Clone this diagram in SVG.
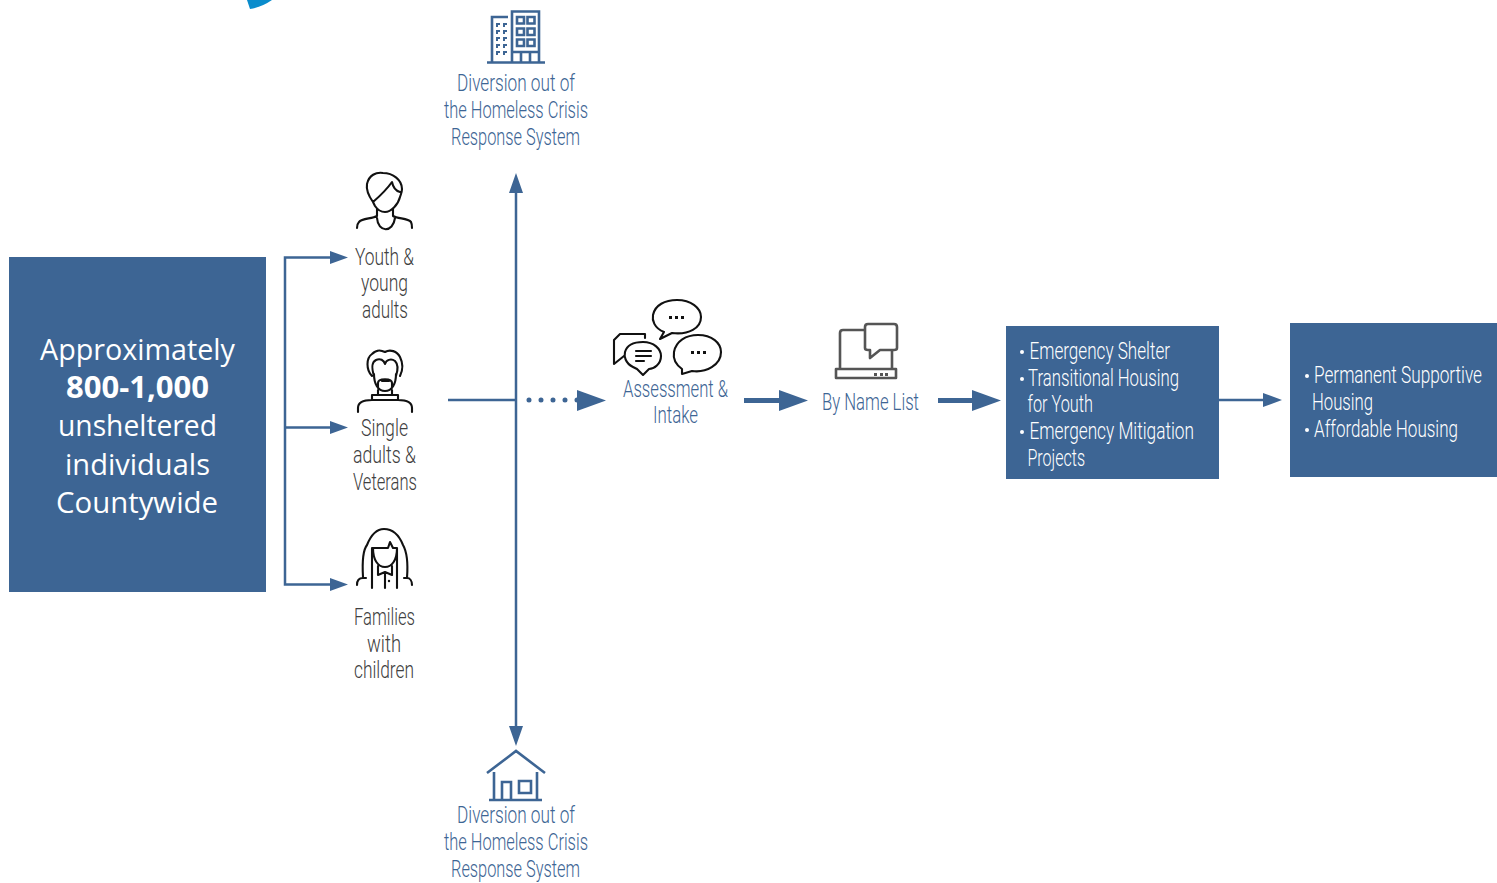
<svg xmlns="http://www.w3.org/2000/svg" width="1497" height="883" viewBox="0 0 1497 883">
<style>
text{font-family:"Open Sans","Liberation Sans",sans-serif}
.t{font-size:24px;font-weight:300;font-family:"Roboto","Open Sans",sans-serif;text-anchor:start}
.g{fill:#404040}.b{fill:#3d6594}.w{fill:#fff}
.m{font-size:30px;fill:#fff}
.box{fill:#3d6594}
.k{fill:none;stroke:#111;stroke-width:2.100;stroke-linecap:round;stroke-linejoin:round}
.s{fill:none;stroke:#3d6594;stroke-width:2.600;stroke-linejoin:miter}
.c{fill:none;stroke:#3d6594;stroke-width:2.500}
.h{fill:#3d6594}
.d{fill:none;stroke:#555;stroke-width:2.600;stroke-linejoin:round}
</style>
<path d="M247 0H272Q262 7 250 9Z" fill="#0a8ccc"/>
<g id="connectors">
<path class="c" d="M332 257.500H285V584.500H332M285 427.500H332"/>
<path class="h" d="M330 251L348 257.500L330 264ZM330 421L348 427.500L330 434ZM330 578L348 584.500L330 591Z"/>
<path class="c" d="M448 400H516M516 186V732"/>
<path class="h" d="M516 173L523 193H509ZM516 746L509 726H523Z"/>
<path d="M529 400H578" fill="none" stroke="#3d6594" stroke-width="5" stroke-linecap="round" stroke-dasharray="0 12"/>
<path class="h" d="M577 390L606 400.500L577 411Z"/>
<path fill="none" stroke="#3d6594" stroke-width="5" d="M744 400.500H785"/>
<path class="h" d="M779 390L808 400.500L779 411Z"/>
<path fill="none" stroke="#3d6594" stroke-width="5" d="M938 400.500H978"/>
<path class="h" d="M972 390L1001 400.500L972 411Z"/>
<path class="c" d="M1219 400H1268"/>
<path class="h" d="M1263 393L1282 400L1263 407Z"/>
</g>
<g id="node-total">
<rect class="box" x="9" y="257" width="257" height="335"/>
<text class="m" x="40" y="360" textLength="195" lengthAdjust="spacingAndGlyphs">Approximately</text>
<text class="m" x="66" y="398" font-weight="700" textLength="143" lengthAdjust="spacingAndGlyphs">800-1,000</text>
<text class="m" x="58" y="436" textLength="159" lengthAdjust="spacingAndGlyphs">unsheltered</text>
<text class="m" x="65" y="475" textLength="145" lengthAdjust="spacingAndGlyphs">individuals</text>
<text class="m" x="56" y="513" textLength="162" lengthAdjust="spacingAndGlyphs">Countywide</text>
</g>
<g id="node-youth">
<path class="k" d="M373 202C368 195 366 190 367 184C369 175 376 172 383 173C393 173 402 180 402 189C402 192 401 194 400 197C398 205 391 212 385 212C381 212 377 209 375 206L373 202C380 196 387 189 392 182C393 187 396 191 400 192M377 209V216C372 219 362 218 359 222C357 224 357 226 357 228M393 209V216C398 219 408 218 411 222C412 224 412 226 412 228M377 218C378 233 393 233 395 218"/>
<text class="t g" x="355" y="265" textLength="59" lengthAdjust="spacingAndGlyphs">Youth &amp;</text>
<text class="t g" x="361" y="291" textLength="47" lengthAdjust="spacingAndGlyphs">young</text>
<text class="t g" x="362" y="318" textLength="46" lengthAdjust="spacingAndGlyphs">adults</text>
</g>
<g id="node-single">
<path class="k" d="M372 376C366 370 366 358 372 354C377 349 381 350 385 352C390 349 397 351 400 357C403 363 403 370 400 376M374 376C371 366 372 362 376 360C380 358 384 360 385 364C386 360 391 358 395 361C398 364 398 370 396 376M374 374C374 384 378 391 385 391C392 391 396 384 396 374M378 388V383C378 378 392 378 392 383V388M382 381H389M378 390V395M392 390V395M372 395H398V400H372ZM358 412V408C358 402 363 400 372 400M412 412V408C412 402 407 400 398 400"/>
<text class="t g" x="361" y="436" textLength="47" lengthAdjust="spacingAndGlyphs">Single</text>
<text class="t g" x="353" y="463" textLength="63" lengthAdjust="spacingAndGlyphs">adults &amp;</text>
<text class="t g" x="353" y="490" textLength="64" lengthAdjust="spacingAndGlyphs">Veterans</text>
</g>
<g id="node-families">
<path class="k" d="M363 577C362 560 363 550 367 545C371 535 376 529 384 529C393 529 399 535 403 545C407 552 408 565 407 578M372 588V548H388L390 542L393 548H397V588M373 548C373 560 378 567 385 567C392 567 397 560 397 548M378 566V575L385 572L392 575V566M385 573V588M357 585C357 581 359 578 363 578H366M412 585C412 581 410 578 407 578H404"/>
<circle cx="389" cy="581" r="1.200" fill="#111"/>
<text class="t g" x="354" y="625" textLength="61" lengthAdjust="spacingAndGlyphs">Families</text>
<text class="t g" x="367" y="652" textLength="34" lengthAdjust="spacingAndGlyphs">with</text>
<text class="t g" x="354" y="678" textLength="60" lengthAdjust="spacingAndGlyphs">children</text>
</g>
<g id="node-diversion-top">
<g class="s">
<path d="M487 62.500H545M492 62V17H508M512 62V11.500H539V62M512 52H539M521 52V62M530 52V62"/>
<path d="M517 17h7v6.500h-7zM527.500 17h7v6.500h-7zM517 28.500h7v6.500h-7zM527.500 28.500h7v6.500h-7zM517 39.500h7v6.500h-7zM527.500 39.500h7v6.500h-7z"/>
<path d="M500 24h-3v3M507 24h-3v3M500 31h-3v3M507 31h-3v3M500 38h-3v3M507 38h-3v3M500 45h-3v3M507 45h-3v3M500 52h-3v3M507 52h-3v3" stroke-width="2"/>
</g>
<text class="t b" x="457" y="91" textLength="118" lengthAdjust="spacingAndGlyphs">Diversion out of</text>
<text class="t b" x="444" y="118" textLength="144" lengthAdjust="spacingAndGlyphs">the Homeless Crisis</text>
<text class="t b" x="451" y="145" textLength="129" lengthAdjust="spacingAndGlyphs">Response System</text>
</g>
<g id="node-diversion-bottom">
<path class="s" d="M487 773L516 751L545 773M494 772V800M537 772V800M489 800H542M502 800V782H511V800M519 781H531V793H519Z"/>
<text class="t b" x="457" y="823" textLength="118" lengthAdjust="spacingAndGlyphs">Diversion out of</text>
<text class="t b" x="444" y="850" textLength="144" lengthAdjust="spacingAndGlyphs">the Homeless Crisis</text>
<text class="t b" x="451" y="877" textLength="129" lengthAdjust="spacingAndGlyphs">Response System</text>
</g>
<g id="node-assessment">
<path class="k" d="M664 332C654 328 652 320 653 315C655 305 665 300 677 300C691 300 701 308 701 317C701 328 689 335 672 333L660 339Z"/>
<path class="k" d="M645 338V334H620L614 340V364L624 356"/>
<path class="k" d="M633 367C625 363 624 356 625 352C627 345 634 342 643 342C654 342 661 349 661 356C661 364 654 369 649 369L643 375L637 369Z"/>
<path class="k" d="M636 351H651M636 356H651M636 361H644"/>
<path class="k" d="M682 369C675 364 673 358 674 352C676 341 686 335 698 335C712 335 721 343 721 352C721 365 706 373 692 371L682 374Z"/>
<path d="M669 316h3v3h-3zM675 316h3v3h-3zM681 316h3v3h-3zM691 351h3v3h-3zM697 351h3v3h-3zM703 351h3v3h-3z" fill="#111"/>
<text class="t b" x="623" y="397" textLength="105" lengthAdjust="spacingAndGlyphs">Assessment &amp;</text>
<text class="t b" x="653" y="423" textLength="45" lengthAdjust="spacingAndGlyphs">Intake</text>
</g>
<g id="node-list">
<path class="d" d="M865 330H843Q840 330 840 333V369M892 350V369M836 369H896V378H836Z"/>
<path class="d" d="M868 324H894Q897 324 897 327V348Q897 350 894 350H880L870 358V350H868Q865 350 865 348V327Q865 324 868 324Z" fill="#fff"/>
<path d="M874 373h3v3h-3zM880 373h3v3h-3zM885 373h3v3h-3z" fill="#555"/>
<text class="t b" x="822" y="410" textLength="97" lengthAdjust="spacingAndGlyphs">By Name List</text>
</g>
<g id="node-interim">
<rect class="box" x="1006" y="326" width="213" height="153"/>
<g class="w">
<circle cx="1022" cy="352" r="2"/><circle cx="1022" cy="379" r="2"/><circle cx="1022" cy="432" r="2"/>
<text class="t w" x="1029.500" y="359" textLength="140.500" lengthAdjust="spacingAndGlyphs">Emergency Shelter</text>
<text class="t w" x="1028" y="386" textLength="151" lengthAdjust="spacingAndGlyphs">Transitional Housing</text>
<text class="t w" x="1027.500" y="412" textLength="65.500" lengthAdjust="spacingAndGlyphs">for Youth</text>
<text class="t w" x="1029.500" y="439" textLength="164.500" lengthAdjust="spacingAndGlyphs">Emergency Mitigation</text>
<text class="t w" x="1027.500" y="466" textLength="57.500" lengthAdjust="spacingAndGlyphs">Projects</text>
</g>
</g>
<g id="node-permanent">
<rect class="box" x="1290" y="323" width="207" height="154"/>
<g class="w">
<circle cx="1307" cy="376" r="2"/><circle cx="1307" cy="430" r="2"/>
<text class="t w" transform="translate(1314 383) scale(.75 1)" textLength="224" lengthAdjust="spacingAndGlyphs">Permanent Supportive</text>
<text class="t w" x="1312" y="410" textLength="61" lengthAdjust="spacingAndGlyphs">Housing</text>
<text class="t w" transform="translate(1314 437) scale(.75 1)" textLength="192" lengthAdjust="spacingAndGlyphs">Affordable Housing</text>
</g>
</g>
</svg>
